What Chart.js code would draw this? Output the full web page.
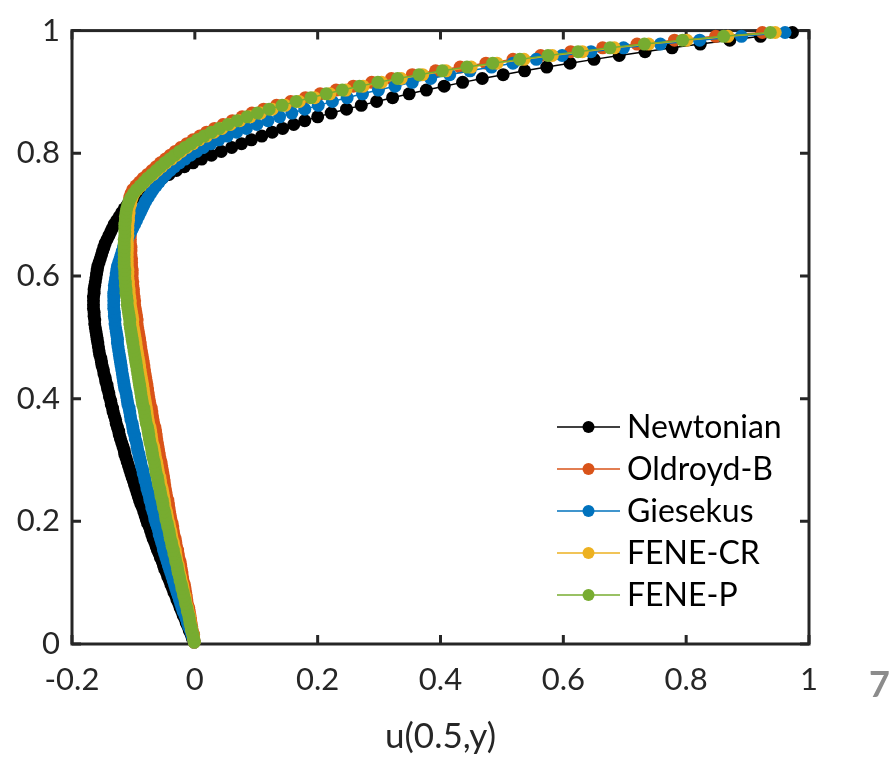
<!DOCTYPE html>
<html>
<head>
<meta charset="utf-8">
<script src="https://cdn.jsdelivr.net/npm/chart.js@4.4.1/dist/chart.umd.min.js"></script>
<style>
  html, body { margin: 0; padding: 0; background: #fff; }
  canvas { display: block; }
</style>
</head>
<body>
<canvas id="profile-chart" width="889" height="760" style="width:889px;height:760px"></canvas>
<script>
// y positions along the vertical centre line (same for every model)
const yGrid = [
  0.0031,0.0094,0.0156,0.0219,0.0281,0.0344,0.0406,0.0469,0.0531,0.0594,0.0656,0.0719,0.0781,0.0844,0.0906,0.0969,
  0.1031,0.1094,0.1156,0.1219,0.1281,0.1344,0.1406,0.1469,0.1531,0.1594,0.1656,0.1719,0.1781,0.1844,0.1906,0.1969,
  0.2031,0.2094,0.2156,0.2219,0.2281,0.2344,0.2406,0.2469,0.2531,0.2594,0.2656,0.2719,0.2781,0.2844,0.2906,0.2969,
  0.3031,0.3094,0.3156,0.3219,0.3281,0.3344,0.3406,0.3469,0.3531,0.3594,0.3656,0.3719,0.3781,0.3844,0.3906,0.3969,
  0.4031,0.4094,0.4156,0.4219,0.4281,0.4344,0.4406,0.4469,0.4531,0.4594,0.4656,0.4719,0.4781,0.4844,0.4906,0.4969,
  0.5031,0.5094,0.5156,0.5219,0.5281,0.5344,0.5406,0.5469,0.5531,0.5594,0.5656,0.5719,0.5781,0.5844,0.5906,0.5969,
  0.6031,0.6094,0.6156,0.6219,0.6281,0.6344,0.6406,0.6469,0.6531,0.6594,0.6656,0.6719,0.6781,0.6844,0.6906,0.6969,
  0.7031,0.7094,0.7156,0.7219,0.7281,0.7344,0.7406,0.7469,0.7531,0.7594,0.7656,0.7719,0.7781,0.7844,0.7906,0.7969,
  0.8031,0.8094,0.8156,0.8219,0.8281,0.8344,0.8406,0.8469,0.8531,0.8594,0.8656,0.8719,0.8781,0.8844,0.8906,0.8969,
  0.9031,0.9094,0.9156,0.9219,0.9281,0.9344,0.9406,0.9469,0.9531,0.9594,0.9656,0.9719,0.9781,0.9844,0.9906,0.9969
];

const uNewtonian = [
  -0.001,-0.004,-0.006,-0.009,-0.011,-0.014,-0.016,-0.019,-0.021,-0.024,
  -0.026,-0.029,-0.031,-0.034,-0.036,-0.039,-0.041,-0.044,-0.046,-0.049,
  -0.051,-0.053,-0.056,-0.058,-0.061,-0.063,-0.065,-0.068,-0.070,-0.072,
  -0.074,-0.077,-0.079,-0.081,-0.083,-0.085,-0.088,-0.090,-0.092,-0.094,
  -0.096,-0.098,-0.100,-0.102,-0.104,-0.106,-0.108,-0.110,-0.112,-0.114,
  -0.115,-0.117,-0.119,-0.121,-0.123,-0.124,-0.126,-0.128,-0.129,-0.131,
  -0.133,-0.134,-0.136,-0.137,-0.139,-0.140,-0.142,-0.143,-0.145,-0.146,
  -0.148,-0.149,-0.151,-0.152,-0.153,-0.155,-0.156,-0.157,-0.158,-0.159,
  -0.160,-0.161,-0.162,-0.163,-0.163,-0.164,-0.164,-0.165,-0.165,-0.165,
  -0.165,-0.164,-0.164,-0.163,-0.162,-0.161,-0.160,-0.159,-0.158,-0.156,
  -0.154,-0.152,-0.150,-0.148,-0.146,-0.143,-0.140,-0.137,-0.134,-0.131,
  -0.127,-0.123,-0.119,-0.115,-0.110,-0.104,-0.097,-0.090,-0.082,-0.073,
  -0.063,-0.053,-0.042,-0.030,-0.017,-0.003,0.011,0.027,0.043,0.060,
  0.076,0.092,0.109,0.126,0.143,0.161,0.179,0.200,0.222,0.247,
  0.271,0.296,0.322,0.349,0.377,0.406,0.436,0.468,0.502,0.537,
  0.573,0.611,0.650,0.691,0.733,0.777,0.823,0.871,0.921,0.973
];

const uOldroydB = [
  -0.001,-0.002,-0.002,-0.004,-0.005,-0.006,-0.007,-0.008,-0.009,-0.010,
  -0.012,-0.013,-0.014,-0.015,-0.016,-0.017,-0.019,-0.020,-0.021,-0.022,
  -0.023,-0.024,-0.026,-0.027,-0.028,-0.030,-0.031,-0.032,-0.034,-0.035,
  -0.036,-0.037,-0.039,-0.040,-0.041,-0.042,-0.043,-0.044,-0.046,-0.047,
  -0.048,-0.049,-0.050,-0.051,-0.052,-0.053,-0.054,-0.055,-0.057,-0.058,
  -0.059,-0.060,-0.061,-0.062,-0.063,-0.064,-0.065,-0.067,-0.068,-0.069,
  -0.070,-0.071,-0.073,-0.074,-0.075,-0.076,-0.077,-0.078,-0.079,-0.080,
  -0.081,-0.082,-0.083,-0.084,-0.085,-0.086,-0.087,-0.088,-0.089,-0.090,
  -0.091,-0.092,-0.093,-0.094,-0.094,-0.095,-0.096,-0.097,-0.098,-0.098,
  -0.099,-0.100,-0.100,-0.101,-0.101,-0.102,-0.102,-0.102,-0.103,-0.103,
  -0.103,-0.104,-0.104,-0.104,-0.105,-0.105,-0.105,-0.106,-0.106,-0.106,
  -0.106,-0.107,-0.107,-0.107,-0.107,-0.106,-0.106,-0.104,-0.101,-0.096,
  -0.090,-0.084,-0.077,-0.070,-0.063,-0.056,-0.048,-0.040,-0.032,-0.023,
  -0.013,-0.003,0.008,0.019,0.032,0.046,0.061,0.077,0.093,0.112,
  0.133,0.156,0.180,0.204,0.230,0.258,0.288,0.320,0.354,0.392,
  0.432,0.474,0.518,0.563,0.612,0.664,0.720,0.781,0.848,0.924
];

const uGiesekus = [
  -0.001,-0.003,-0.005,-0.007,-0.010,-0.012,-0.014,-0.016,-0.019,-0.021,
  -0.023,-0.025,-0.027,-0.029,-0.031,-0.033,-0.035,-0.037,-0.039,-0.041,
  -0.043,-0.045,-0.047,-0.049,-0.051,-0.052,-0.054,-0.056,-0.058,-0.059,
  -0.061,-0.063,-0.065,-0.066,-0.068,-0.070,-0.071,-0.073,-0.074,-0.076,
  -0.078,-0.079,-0.081,-0.082,-0.084,-0.085,-0.087,-0.088,-0.090,-0.091,
  -0.093,-0.094,-0.095,-0.097,-0.098,-0.100,-0.101,-0.102,-0.104,-0.105,
  -0.106,-0.107,-0.109,-0.110,-0.111,-0.112,-0.114,-0.115,-0.116,-0.117,
  -0.118,-0.119,-0.120,-0.121,-0.122,-0.123,-0.124,-0.125,-0.126,-0.126,
  -0.127,-0.128,-0.129,-0.130,-0.130,-0.131,-0.131,-0.132,-0.132,-0.132,
  -0.132,-0.132,-0.131,-0.131,-0.130,-0.129,-0.128,-0.127,-0.126,-0.124,
  -0.122,-0.120,-0.118,-0.116,-0.113,-0.110,-0.107,-0.104,-0.101,-0.098,
  -0.095,-0.092,-0.089,-0.086,-0.083,-0.080,-0.076,-0.072,-0.068,-0.063,
  -0.058,-0.053,-0.047,-0.040,-0.033,-0.025,-0.016,-0.007,0.003,0.014,
  0.026,0.039,0.053,0.068,0.084,0.101,0.119,0.138,0.158,0.179,
  0.201,0.224,0.248,0.273,0.299,0.326,0.354,0.384,0.415,0.448,
  0.483,0.518,0.556,0.598,0.645,0.698,0.758,0.822,0.890,0.961
];

const uFeneCR = [
  -0.001,-0.002,-0.003,-0.005,-0.006,-0.007,-0.008,-0.009,-0.011,-0.012,
  -0.014,-0.015,-0.016,-0.018,-0.019,-0.020,-0.022,-0.023,-0.025,-0.026,
  -0.027,-0.029,-0.030,-0.031,-0.032,-0.034,-0.035,-0.037,-0.038,-0.039,
  -0.041,-0.042,-0.044,-0.045,-0.046,-0.048,-0.049,-0.050,-0.051,-0.052,
  -0.053,-0.055,-0.056,-0.057,-0.059,-0.060,-0.061,-0.062,-0.064,-0.065,
  -0.066,-0.067,-0.069,-0.070,-0.071,-0.072,-0.073,-0.075,-0.076,-0.077,
  -0.078,-0.079,-0.080,-0.081,-0.082,-0.083,-0.084,-0.085,-0.086,-0.087,
  -0.088,-0.089,-0.090,-0.091,-0.092,-0.093,-0.094,-0.095,-0.096,-0.097,
  -0.098,-0.099,-0.100,-0.101,-0.101,-0.102,-0.103,-0.104,-0.105,-0.105,
  -0.106,-0.107,-0.107,-0.108,-0.108,-0.109,-0.109,-0.109,-0.110,-0.110,
  -0.110,-0.110,-0.110,-0.110,-0.110,-0.110,-0.109,-0.109,-0.109,-0.109,
  -0.108,-0.108,-0.107,-0.107,-0.105,-0.104,-0.102,-0.099,-0.094,-0.088,
  -0.082,-0.076,-0.068,-0.061,-0.054,-0.047,-0.038,-0.030,-0.022,-0.013,
  -0.003,0.007,0.019,0.031,0.044,0.058,0.073,0.090,0.107,0.126,
  0.147,0.170,0.195,0.220,0.246,0.274,0.304,0.336,0.371,0.409,
  0.450,0.492,0.536,0.582,0.631,0.683,0.739,0.801,0.868,0.945
];

const uFeneP = [
  -0.001,-0.002,-0.003,-0.005,-0.006,-0.008,-0.009,-0.010,-0.012,-0.013,
  -0.015,-0.016,-0.018,-0.019,-0.021,-0.022,-0.024,-0.025,-0.027,-0.028,
  -0.029,-0.031,-0.032,-0.034,-0.035,-0.037,-0.038,-0.040,-0.041,-0.042,
  -0.044,-0.045,-0.047,-0.048,-0.049,-0.051,-0.052,-0.053,-0.055,-0.056,
  -0.057,-0.059,-0.060,-0.061,-0.063,-0.064,-0.065,-0.066,-0.068,-0.069,
  -0.070,-0.071,-0.073,-0.074,-0.075,-0.076,-0.077,-0.079,-0.080,-0.081,
  -0.082,-0.083,-0.085,-0.086,-0.087,-0.088,-0.089,-0.090,-0.091,-0.092,
  -0.093,-0.094,-0.095,-0.096,-0.097,-0.098,-0.099,-0.100,-0.101,-0.102,
  -0.103,-0.104,-0.105,-0.106,-0.106,-0.107,-0.108,-0.109,-0.110,-0.110,
  -0.111,-0.112,-0.112,-0.113,-0.113,-0.114,-0.114,-0.114,-0.115,-0.115,
  -0.115,-0.115,-0.115,-0.115,-0.115,-0.115,-0.114,-0.114,-0.114,-0.114,
  -0.113,-0.113,-0.112,-0.111,-0.109,-0.107,-0.104,-0.100,-0.095,-0.089,
  -0.083,-0.077,-0.070,-0.063,-0.056,-0.049,-0.041,-0.033,-0.025,-0.016,
  -0.006,0.004,0.015,0.027,0.040,0.054,0.069,0.085,0.102,0.121,
  0.142,0.165,0.189,0.214,0.240,0.268,0.298,0.330,0.365,0.403,
  0.443,0.485,0.529,0.575,0.624,0.676,0.732,0.794,0.861,0.937
];

const seriesNames = ['Newtonian', 'Oldroyd-B', 'Giesekus', 'FENE-CR', 'FENE-P'];
const seriesValues = [uNewtonian, uOldroydB, uGiesekus, uFeneCR, uFeneP];
const seriesColors = ['#000000', '#D95319', '#0072BD', '#EDB120', '#77AC30'];

const xTicks = [-0.2, 0, 0.2, 0.4, 0.6, 0.8, 1];
const xTickLabels = ['-0.2', '0', '0.2', '0.4', '0.6', '0.8', '1'];
const yTicks = [0, 0.2, 0.4, 0.6, 0.8, 1];
const yTickLabels = ['0', '0.2', '0.4', '0.6', '0.8', '1'];
const xTitle = 'u(0.5,y)';

const FONT = 'Lato, "Open Sans", sans-serif';
const AXIS_COLOR = '#262626';

// box + inward ticks, drawn under the curves like matlab does
const boxPlugin = {
    id: 'box',
    beforeDatasetsDraw: (chart) => {
        const {ctx, chartArea: {left, right, top, bottom}, scales: {x, y}} = chart;
        const len = 9;
        ctx.save();
        ctx.strokeStyle = AXIS_COLOR;
        ctx.lineWidth = 3;
        ctx.lineCap = 'butt';
        ctx.beginPath();
        xTicks.forEach(v => {
            const px = x.getPixelForValue(v);
            ctx.moveTo(px, bottom); ctx.lineTo(px, bottom - len);
            ctx.moveTo(px, top); ctx.lineTo(px, top + len);
        });
        yTicks.forEach(v => {
            const py = y.getPixelForValue(v);
            ctx.moveTo(left, py); ctx.lineTo(left + len, py);
            ctx.moveTo(right, py); ctx.lineTo(right - len, py);
        });
        ctx.stroke();
        ctx.strokeRect(left, top, right - left, bottom - top);
        ctx.restore();
    }
};

// legend in the lower right corner, line with marker then name
const legendPlugin = {
    id: 'insideLegend',
    afterDatasetsDraw: (chart) => {
        const ctx = chart.ctx;
        const x0 = 557, x1 = 620, y0 = 427, step = 42;
        ctx.save();
        ctx.font = '32px ' + FONT;
        ctx.textBaseline = 'middle';
        ctx.textAlign = 'left';
        seriesNames.forEach((name, k) => {
            const yy = y0 + k * step;
            ctx.strokeStyle = seriesColors[k];
            ctx.lineWidth = 1.5;
            ctx.beginPath();
            ctx.moveTo(x0, yy); ctx.lineTo(x1, yy);
            ctx.stroke();
            ctx.fillStyle = seriesColors[k];
            ctx.beginPath();
            ctx.arc((x0 + x1) / 2, yy, 6, 0, Math.PI * 2);
            ctx.fill();
            ctx.fillStyle = '#000';
            ctx.fillText(name, 627, yy + 1);
        });
        // page number fragment at the right edge
        ctx.fillStyle = '#8c8c8c';
        ctx.font = 'bold 36px ' + FONT;
        ctx.textBaseline = 'alphabetic';
        ctx.fillText('7', 869, 697);
        ctx.restore();
    }
};

const datasets = seriesValues.map((vals, k) => ({
    label: seriesNames[k],
    data: yGrid.map((y, i) => ({x: vals[i], y: y})),
    showLine: true,
    borderColor: seriesColors[k],
    borderWidth: 1.5,
    backgroundColor: seriesColors[k],
    pointBackgroundColor: seriesColors[k],
    pointBorderWidth: 0,
    pointRadius: 6.5,
    pointHoverRadius: 6.5,
    clip: false,
    order: seriesNames.length - k
}));

new Chart(document.getElementById('profile-chart'), {
    type: 'scatter',
    data: {datasets: datasets},
    options: {
        responsive: false,
        animation: false,
        devicePixelRatio: 1,
        events: [],
        layout: {padding: {top: 21, right: 80, bottom: 0, left: 0}},
        plugins: {
            legend: {display: false},
            tooltip: {enabled: false}
        },
        scales: {
            x: {
                type: 'linear',
                min: -0.2,
                max: 1,
                afterBuildTicks: (s) => { s.ticks = xTicks.map(v => ({value: v})); },
                afterFit: (s) => { s.height = 116; },
                grid: {display: false, drawTicks: false},
                border: {display: false},
                ticks: {
                    font: {family: FONT, size: 31},
                    color: AXIS_COLOR,
                    padding: 17,
                    maxRotation: 0,
                    autoSkip: false,
                    callback: (v, i) => xTickLabels[i]
                },
                title: {
                    display: true,
                    text: xTitle,
                    font: {family: FONT, size: 35},
                    color: AXIS_COLOR,
                    padding: {top: 0, bottom: 2}
                }
            },
            y: {
                type: 'linear',
                min: 0,
                max: 1,
                afterBuildTicks: (s) => { s.ticks = yTicks.map(v => ({value: v})); },
                afterFit: (s) => { s.width = 72; },
                grid: {display: false, drawTicks: false},
                border: {display: false},
                ticks: {
                    font: {family: FONT, size: 31},
                    color: AXIS_COLOR,
                    padding: 12,
                    autoSkip: false,
                    callback: (v, i) => yTickLabels[i]
                }
            }
        }
    },
    plugins: [boxPlugin, legendPlugin]
});
</script>
</body>
</html>
